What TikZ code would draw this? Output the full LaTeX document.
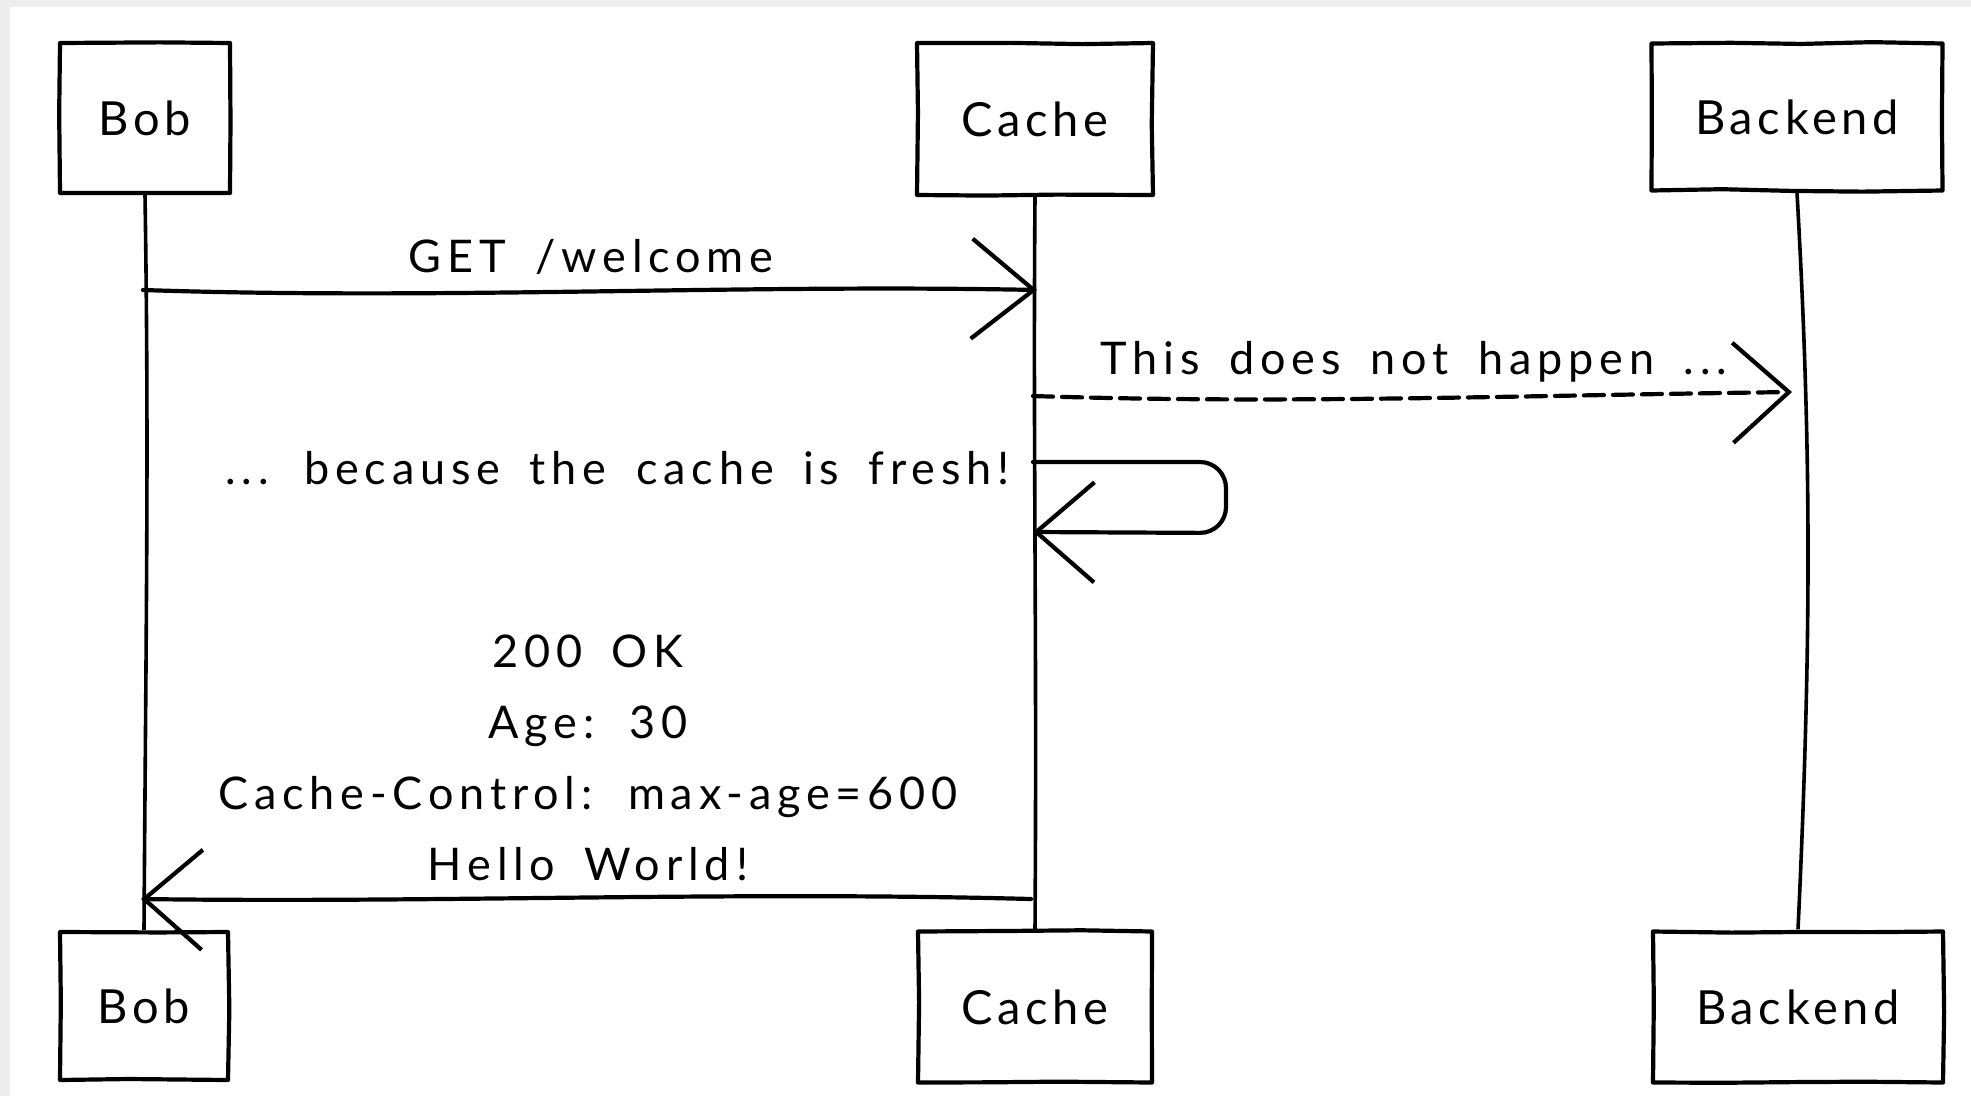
\documentclass[tikz,border=0pt]{standalone}
\usepackage{fontspec}
\setmainfont{Lato}[LetterSpace=10]
\newfontfamily\msgfont{Lato}[LetterSpace=13, WordSpace=1.7]
\usetikzlibrary{arrows.meta,decorations.pathmorphing}

\begin{document}
\pgfmathsetseed{11}
\begin{tikzpicture}[x=1pt,y=-1pt,
  ink/.style={line width=4.2pt, line cap=round, line join=round, draw=black},
  sketchy/.style={decorate, decoration={random steps, segment length=70pt, amplitude=1.6pt}},
  actor/.style={ink, sketchy, minimum width=#1, inner sep=0pt,
    font=\fontsize{47}{50}\selectfont},
  msgtext/.style={font=\msgfont\fontsize{45}{71}\selectfont, inner sep=0pt},
  barb/.style={-{Straight Barb[length=#1, width=100pt, line width=4.2pt]}},
  lifeline/.style={line width=3.6pt, draw=black},
]
% page and its faint shadow strip
\fill[black!7] (0,0) rectangle (1971,1096);
\fill[white] (10,7) rectangle (1971,1096);
\useasboundingbox (0,0) rectangle (1971,1096);

% participants, top row
\node[actor=170pt, minimum height=150pt] (bobTop) at (145,118) {Bob};
\node[actor=236pt, minimum height=152pt] (cacheTop) at (1035,119) {Cache};
\node[actor=291pt, minimum height=147pt] (backTop) at (1797,117) {Backend};

% participants, bottom row
\node[actor=168pt, minimum height=148pt] (bobBot) at (144,1006) {Bob};
\node[actor=234pt, minimum height=151pt] (cacheBot) at (1035,1007) {Cache};
\node[actor=290pt, minimum height=151pt] (backBot) at (1798,1007) {Backend};

% lifelines
\draw[lifeline] (bobTop.south) .. controls +(4,250) and +(2,-300) .. (bobBot.north);
\draw[lifeline] (cacheTop.south) .. controls +(-2,250) and +(2,-300) .. (cacheBot.north);
\draw[lifeline] (backTop.south) .. controls +(14,250) and +(14,-300) .. (backBot.north);

% message end points on the lifelines
\coordinate (getFrom) at (143,290);
\coordinate (getTo) at (1037,290);
\coordinate (skipFrom) at (1033,396);
\coordinate (skipTo) at (1792,392);
\coordinate (loopFrom) at (1033,462);
\coordinate (loopTo) at (1033,532);
\coordinate (okFrom) at (1031,899);
\coordinate (okTo) at (141,899);

% GET /welcome
\draw[ink, barb=62pt] (getFrom) .. controls +(300,10) and +(-300,-6) .. (getTo);
\node[msgtext] (getLabel) at (591,257) {GET /welcome};

% request that is never forwarded
\draw[ink, dash pattern=on 20pt off 9pt, barb=56pt]
  (skipFrom) .. controls +(250,8) and +(-300,4) .. (skipTo);
\node[msgtext] (skipLabel) at (1414,362) {This does not happen ...};

% answer served from the cache itself
\draw[ink, rounded corners=26pt, barb=58pt]
  (loopFrom) -- (1226,462) -- (1226,533) -- (loopTo);
\node[msgtext, anchor=east] (loopLabel) at (1010,468) {... because the cache is fresh!};

% response back to Bob
\draw[ink, barb=58pt] (okFrom) .. controls +(-300,-8) and +(300,4) .. (okTo);
\node[msgtext, align=center] (okLabel) at (588,758)
  {200 OK\\Age: 30\\Cache-Control: max-age=600\\Hello World!};
\end{tikzpicture}
\end{document}
